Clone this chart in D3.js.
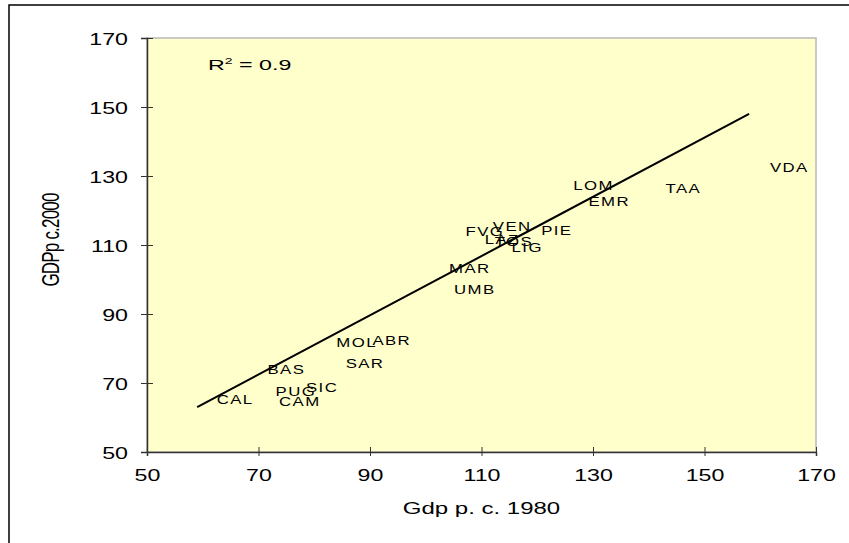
<!DOCTYPE html>
<html>
<head>
<meta charset="utf-8">
<script src="https://cdn.jsdelivr.net/npm/d3@7"></script>
<style>
  body { margin: 0; background: #fff; }
  svg { display: block; font-family: "Liberation Sans", Arial, sans-serif; }
</style>
</head>
<body>
<svg id="chart" width="849" height="543"></svg>
<script>
// regions and their gdp per capita (1980 vs c.2000)
let regions = ['CAL','CAM','PUG','SIC','BAS','SAR','MOL','ABR','UMB','MAR','FVG','VEN','LAZ','TOS','LIG','PIE','LOM','EMR','TAA','VDA'];
let gdp1980 = [65.8, 77.4, 76.7, 81.4, 75.0, 89.1, 87.6, 93.9, 108.8, 107.9, 110.6, 115.5, 113.7, 115.8, 118.2, 123.5, 130.1, 132.9, 146.2, 165.2];
let gdp2000 = [65.2, 64.5, 67.4, 68.6, 73.8, 75.7, 81.6, 82.3, 97.2, 103.3, 113.8, 115.5, 111.7, 110.9, 109.4, 114.3, 127.2, 122.5, 126.5, 132.5];

// linear trendline end points
let trendX = [59.0, 158.0];
let trendY = [63.0, 148.0];

let ticks = [50, 70, 90, 110, 130, 150, 170];

const svg = d3.select("#chart");

// outer frame
svg.append("rect")
    .attr("x", 9).attr("y", 5)
    .attr("width", 900).attr("height", 600)
    .attr("fill", "white")
    .attr("stroke", "#000")
    .attr("stroke-width", 1.5);

const pLeft = 147, pTop = 38, pRight = 816, pBottom = 452;

const x = d3.scaleLinear().domain([50, 170]).range([pLeft, pRight]);
const y = d3.scaleLinear().domain([50, 170]).range([pBottom, pTop]);

// plot area
svg.append("rect")
    .attr("x", pLeft).attr("y", pTop)
    .attr("width", pRight - pLeft).attr("height", pBottom - pTop)
    .attr("fill", "#ffffcc")
    .attr("stroke", "#b8b8b8")
    .attr("stroke-width", 1.5);

const sx = 1.45; // text is drawn wide in the original

// y axis
const yAxis = svg.append("g")
    .attr("transform", `translate(${pLeft},0)`)
    .call(d3.axisLeft(y).tickValues(ticks).tickSizeOuter(0).tickSize(6));
yAxis.select(".domain").attr("stroke", "#333").attr("stroke-width", 1.5);
yAxis.selectAll(".tick line").attr("x1", 6).attr("x2", -6).attr("stroke", "#333");
yAxis.selectAll(".tick text")
    .attr("x", -19 / sx).attr("dy", null).attr("y", 6)
    .attr("transform", `scale(${sx},1)`)
    .style("font-size", "16px").attr("fill", "#000");

// x axis
const xAxis = svg.append("g")
    .attr("transform", `translate(0,${pBottom})`)
    .call(d3.axisBottom(x).tickValues(ticks).tickSizeOuter(0).tickSize(4));
xAxis.select(".domain").attr("stroke", "#333").attr("stroke-width", 1.5);
xAxis.selectAll(".tick line").attr("y1", -5).attr("y2", 4).attr("stroke", "#333");
xAxis.selectAll(".tick text")
    .attr("dy", null).attr("y", 29)
    .attr("transform", `scale(${sx},1)`)
    .style("font-size", "16px").attr("fill", "#000");

// axis titles
svg.append("text")
    .attr("transform", `translate(${(pLeft + pRight) / 2},514) scale(1.5,1)`)
    .attr("text-anchor", "middle")
    .style("font-size", "16px")
    .text("Gdp p. c. 1980");

svg.append("text")
    .attr("transform", `translate(59,240) scale(${sx},1) rotate(-90)`)
    .attr("text-anchor", "middle")
    .style("font-size", "17px")
    .style("letter-spacing", "-0.8px")
    .text("GDPp c.2000");

// R squared
const r2 = svg.append("text")
    .attr("transform", "translate(208,70) scale(1.55,1)")
    .style("font-size", "15px");
r2.append("tspan").text("R");
r2.append("tspan").attr("dy", -6).style("font-size", "9px").text("2");
r2.append("tspan").attr("dy", 6).text(" = 0.9");

// trendline
const line = d3.line().x(d => x(d[0])).y(d => y(d[1]));
svg.append("path")
    .datum(d3.zip(trendX, trendY))
    .attr("d", line)
    .attr("fill", "none")
    .attr("stroke", "#000")
    .attr("stroke-width", 2);

// data labels (points themselves have no marker)
const data = regions.map((r, i) => ({name: r, x: gdp1980[i], y: gdp2000[i]}));
svg.append("g")
    .selectAll("text")
    .data(data)
    .join("text")
    .attr("transform", d => `translate(${x(d.x)},${y(d.y) + 4.5}) scale(1.4,1)`)
    .attr("text-anchor", "middle")
    .style("font-size", "12px")
    .style("letter-spacing", "1px")
    .text(d => d.name);
</script>
</body>
</html>
